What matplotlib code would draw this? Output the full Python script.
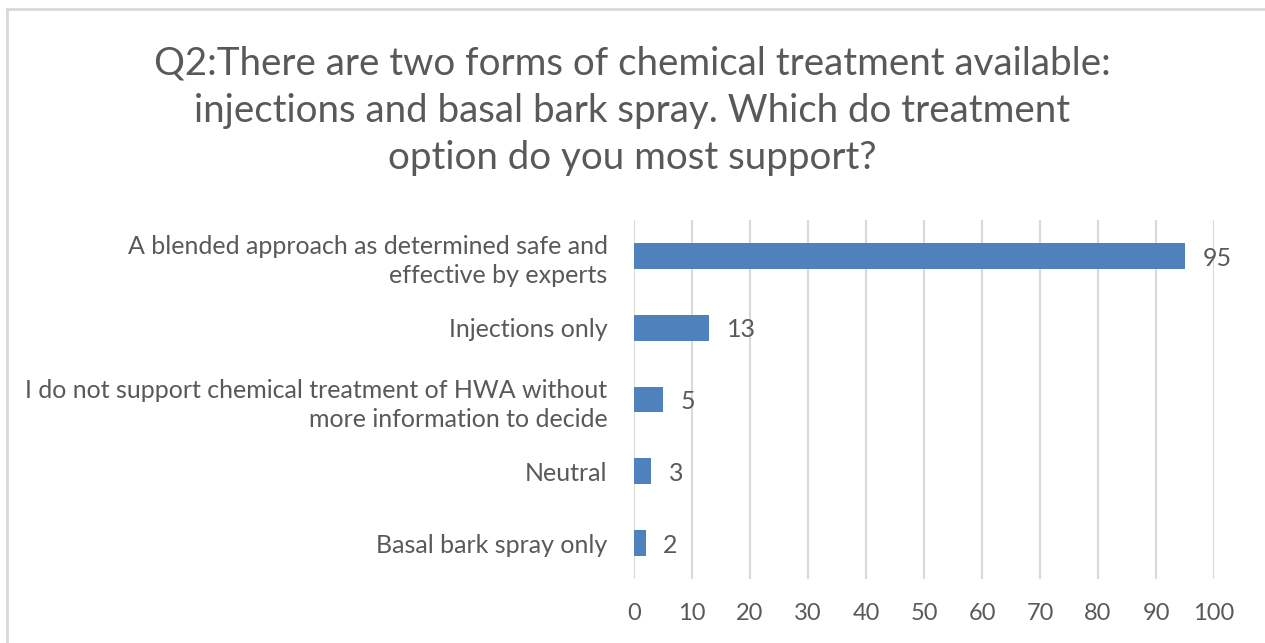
import matplotlib.pyplot as plt
from matplotlib.lines import Line2D

# data (top to bottom as shown)
categories = [
    "A blended approach as determined safe and\neffective by experts",
    "Injections only",
    "I do not support chemical treatment of HWA without\nmore information to decide",
    "Neutral",
    "Basal bark spray only",
]
counts = [95, 13, 5, 3, 2]
x_ticks = [0, 10, 20, 30, 40, 50, 60, 70, 80, 90, 100]
title = ("Q2:There are two forms of chemical treatment available:\n"
         "injections and basal bark spray. Which do treatment\n"
         "option do you most support?")

plt.rcParams["font.family"] = ["Lato", "DejaVu Sans"]
text_color = "#595959"
bar_color = "#4f81bd"
grid_color = "#d9d9d9"

fig = plt.figure(figsize=(12.65, 6.43), dpi=100)
# axes placed to match the plot area: x 634..1214 px, y 220..579 px
ax = fig.add_axes([634 / 1265, 1 - 579 / 643, 580 / 1265, 359 / 643])

ypos = list(range(len(categories)))
ax.barh(ypos, counts, height=0.36, color=bar_color, zorder=3)
ax.set_ylim(len(categories) - 0.5, -0.5)
ax.set_xlim(0, 100)
ax.set_xticks(x_ticks)
ax.set_yticks(ypos)
ax.set_yticklabels(categories, fontsize=18, color=text_color, linespacing=1.32)
ax.tick_params(axis="x", labelsize=17, labelcolor=text_color, length=0, pad=17)
ax.tick_params(axis="y", length=0, pad=19)
ax.grid(axis="x", color=grid_color, linewidth=1.5, zorder=0)
for s in ax.spines.values():
    s.set_visible(False)

# value labels
for y, v in zip(ypos, counts):
    ax.text(v + 3, y + 0.03, str(v), va="center", ha="left", fontsize=18, color=text_color)

fig.text(0.5, 1 - 111 / 643, title, ha="center", va="center", fontsize=27.7,
         color=text_color, linespacing=1.38)

# chart border (top and left edges visible)
fig.add_artist(Line2D([7 / 1265, 1], [1 - 9 / 643, 1 - 9 / 643], color=grid_color,
                      linewidth=2, transform=fig.transFigure))
fig.add_artist(Line2D([7 / 1265, 7 / 1265], [0, 1 - 9 / 643], color=grid_color,
                      linewidth=2, transform=fig.transFigure))

fig.savefig("out.png", dpi=100)
